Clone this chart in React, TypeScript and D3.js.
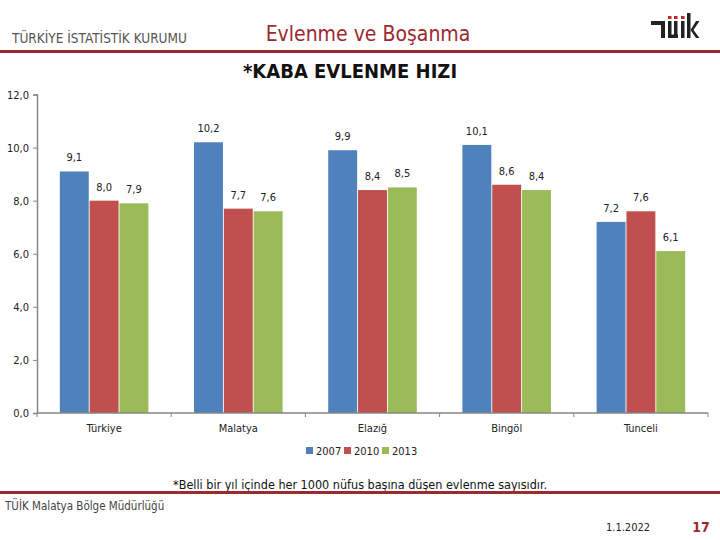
import { useEffect, useRef } from "react";
import * as d3 from "d3";

// ---- data ----
const CATEGORIES = ["Türkiye", "Malatya", "Elazığ", "Bingöl", "Tunceli"];
const YEARS = ["2007", "2010", "2013"];
const VALUES_2007 = [9.1, 10.2, 9.9, 10.1, 7.2];
const VALUES_2010 = [8.0, 7.7, 8.4, 8.6, 7.6];
const VALUES_2013 = [7.9, 7.6, 8.5, 8.4, 6.1];
const Y_TICKS = [0, 2, 4, 6, 8, 10, 12];

const SERIES_COLORS = ["#4f81bd", "#c0504d", "#9bbb59"];
const BRAND_RED = "#9b2a2e";
const FONT = "'Liberation Sans Narrow', 'DejaVu Sans Condensed', 'Arial Narrow', sans-serif";

const fmt = (v: number) => v.toFixed(1).replace(".", ",");

export default function App() {
  const svgRef = useRef<SVGSVGElement>(null);
  const width = 720;
  const height = 540;

  useEffect(() => {
    document.body.style.margin = "0";
    const svg = d3.select(svgRef.current);
    svg.selectAll("*").remove();

    svg.append("rect").attr("width", width).attr("height", height).attr("fill", "#fff");

    // ---- header ----
    svg
      .append("text")
      .attr("x", 12)
      .attr("y", 43)
      .attr("font-family", FONT)
      .attr("font-size", 13.5)
      .attr("fill", "#555")
      .text("TÜRKİYE İSTATİSTİK KURUMU");

    svg
      .append("text")
      .attr("x", 368)
      .attr("y", 41)
      .attr("text-anchor", "middle")
      .attr("font-family", FONT)
      .attr("font-size", 21)
      .attr("fill", BRAND_RED)
      .text("Evlenme ve Boşanma");

    svg
      .append("rect")
      .attr("x", 0)
      .attr("y", 50)
      .attr("width", width)
      .attr("height", 3)
      .attr("fill", BRAND_RED);

    svg
      .append("text")
      .attr("x", 350)
      .attr("y", 78)
      .attr("text-anchor", "middle")
      .attr("font-family", FONT)
      .attr("font-size", 20)
      .attr("font-weight", "bold")
      .attr("fill", "#111")
      .text("*KABA EVLENME HIZI");

    // logo (rough)
    const logo = svg.append("g").attr("fill", "#222");
    logo.append("rect").attr("x", 651).attr("y", 21).attr("width", 14).attr("height", 4);
    logo.append("rect").attr("x", 661).attr("y", 21).attr("width", 4).attr("height", 17);
    logo.append("rect").attr("x", 668).attr("y", 21).attr("width", 3.5).attr("height", 17);
    logo.append("rect").attr("x", 674).attr("y", 21).attr("width", 3.5).attr("height", 17);
    logo.append("rect").attr("x", 668).attr("y", 34.5).attr("width", 10).attr("height", 3.5);
    logo.append("rect").attr("x", 681).attr("y", 21).attr("width", 3.5).attr("height", 17);
    logo.append("rect").attr("x", 687).attr("y", 13).attr("width", 3.5).attr("height", 25);
    logo
      .append("path")
      .attr("d", "M690.5,30 L696,21 L699.5,21 L693.5,30 L699.5,38 L696,38 Z");
    const dots = svg.append("g").attr("fill", "#c0272d");
    dots.append("rect").attr("x", 668).attr("y", 16).attr("width", 3.5).attr("height", 3);
    dots.append("rect").attr("x", 674).attr("y", 16).attr("width", 3.5).attr("height", 3);
    dots.append("rect").attr("x", 681).attr("y", 16).attr("width", 3.5).attr("height", 3);

    // ---- chart ----
    const x0 = d3.scaleBand().domain(CATEGORIES).range([37, 708]).paddingInner(0.34).paddingOuter(0.17);
    const x1 = d3.scaleBand().domain(YEARS).range([0, x0.bandwidth()]).paddingInner(0.03);
    const y = d3.scaleLinear().domain([0, 12]).range([413, 94.5]);

    const seriesValues = [VALUES_2007, VALUES_2010, VALUES_2013];

    const g = svg.append("g");

    CATEGORIES.forEach((cat, ci) => {
      YEARS.forEach((yr, si) => {
        const v = seriesValues[si][ci];
        const bx = (x0(cat) ?? 0) + (x1(yr) ?? 0);
        g.append("rect")
          .attr("x", bx)
          .attr("y", y(v))
          .attr("width", x1.bandwidth())
          .attr("height", y(0) - y(v))
          .attr("fill", SERIES_COLORS[si]);
        g.append("text")
          .attr("x", bx + x1.bandwidth() / 2)
          .attr("y", y(v) - 10)
          .attr("text-anchor", "middle")
          .attr("font-family", FONT)
          .attr("font-size", 11)
          .attr("fill", "#222")
          .text(fmt(v));
      });
    });

    // y axis
    const axisColor = "#868686";
    const yAxis = d3
      .axisLeft(y)
      .tickValues(Y_TICKS)
      .tickSize(4)
      .tickPadding(4)
      .tickFormat((d) => fmt(d as number));
    svg
      .append("g")
      .attr("transform", "translate(37,0)")
      .call(yAxis)
      .call((s) => s.select(".domain").attr("stroke", axisColor).attr("stroke-width", 1.5))
      .call((s) => s.selectAll(".tick line").attr("stroke", axisColor))
      .call((s) =>
        s.selectAll(".tick text").attr("fill", "#222").attr("font-size", 11).attr("font-family", FONT)
      );

    // x axis
    const xAxisG = svg.append("g").attr("transform", `translate(0,${y(0)})`);
    xAxisG
      .append("line")
      .attr("x1", 37)
      .attr("x2", 708)
      .attr("stroke", axisColor)
      .attr("stroke-width", 1.5);
    const boundaries = [37, ...CATEGORIES.map((c) => (x0(c) ?? 0) + x0.bandwidth() + (x0.step() - x0.bandwidth()) / 2)];
    boundaries.forEach((bx) => {
      xAxisG.append("line").attr("x1", bx).attr("x2", bx).attr("y1", 0).attr("y2", 4).attr("stroke", axisColor);
    });
    CATEGORIES.forEach((cat) => {
      xAxisG
        .append("text")
        .attr("x", (x0(cat) ?? 0) + x0.bandwidth() / 2)
        .attr("y", 19)
        .attr("text-anchor", "middle")
        .attr("font-family", FONT)
        .attr("font-size", 11)
        .attr("fill", "#222")
        .text(cat);
    });

    // legend
    const legend = svg.append("g").attr("transform", "translate(306,451)");
    let lx = 0;
    YEARS.forEach((yr, i) => {
      legend.append("rect").attr("x", lx).attr("y", -4).attr("width", 7).attr("height", 7).attr("fill", SERIES_COLORS[i]);
      legend
        .append("text")
        .attr("x", lx + 10)
        .attr("y", 4)
        .attr("font-family", FONT)
        .attr("font-size", 11)
        .attr("fill", "#222")
        .text(yr);
      lx += 38;
    });

    // ---- footer ----
    svg
      .append("text")
      .attr("x", 360)
      .attr("y", 489)
      .attr("text-anchor", "middle")
      .attr("font-family", FONT)
      .attr("font-size", 12.5)
      .attr("fill", "#111")
      .text("*Belli bir yıl içinde her 1000 nüfus başına düşen evlenme sayısıdır.");

    svg
      .append("rect")
      .attr("x", 0)
      .attr("y", 491)
      .attr("width", width)
      .attr("height", 3)
      .attr("fill", BRAND_RED);

    svg
      .append("text")
      .attr("x", 5)
      .attr("y", 510)
      .attr("font-family", FONT)
      .attr("font-size", 11.5)
      .attr("fill", "#444")
      .text("TÜİK Malatya Bölge Müdürlüğü");

    svg
      .append("text")
      .attr("x", 628)
      .attr("y", 531)
      .attr("text-anchor", "middle")
      .attr("font-family", FONT)
      .attr("font-size", 11)
      .attr("fill", "#222")
      .text("1.1.2022");

    svg
      .append("text")
      .attr("x", 701)
      .attr("y", 532)
      .attr("text-anchor", "middle")
      .attr("font-family", FONT)
      .attr("font-size", 14)
      .attr("font-weight", "bold")
      .attr("fill", BRAND_RED)
      .text("17");
  }, []);

  return <svg ref={svgRef} width={width} height={height} style={{ display: "block" }} />;
}
